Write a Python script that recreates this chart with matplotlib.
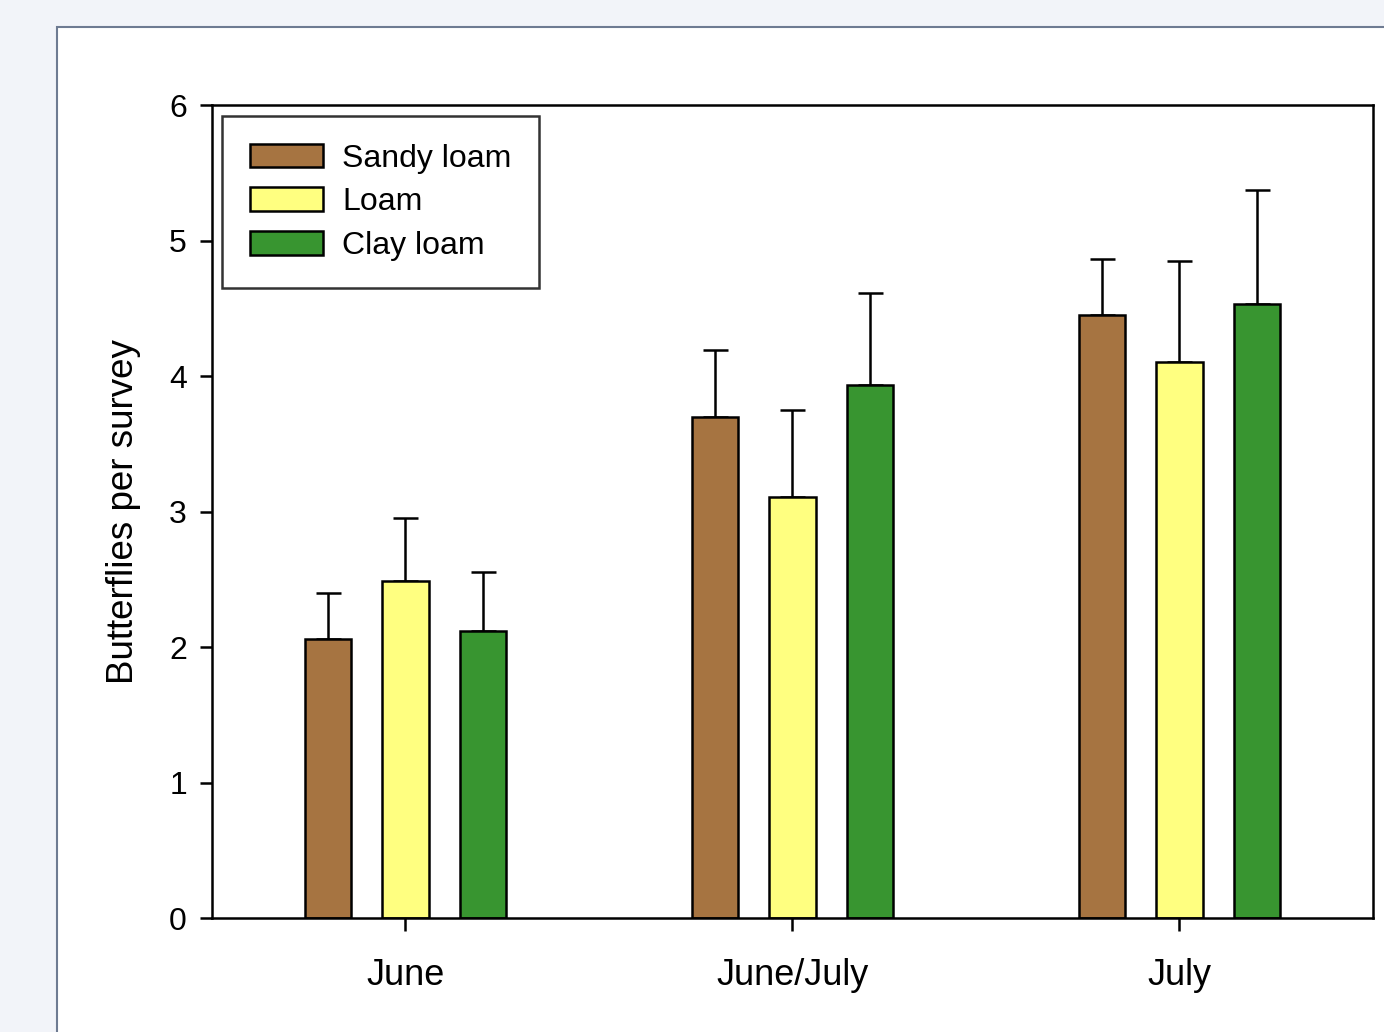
import numpy as np
import matplotlib
matplotlib.use("Agg")
import matplotlib.pyplot as plt
from matplotlib.patches import Rectangle

plt.rcParams['font.family'] = ['Liberation Sans', 'DejaVu Sans']

periods = ['June', 'June/July', 'July']
soils = ['Sandy loam', 'Loam', 'Clay loam']
sandy_mean = [2.06, 3.70, 4.45]
sandy_err = [0.34, 0.49, 0.41]
loam_mean = [2.49, 3.11, 4.10]
loam_err = [0.46, 0.64, 0.75]
clay_mean = [2.12, 3.93, 4.53]
clay_err = [0.43, 0.68, 0.84]

colors = ['#a67441', '#ffff80', '#389530']
lw = 1.8

fig = plt.figure(figsize=(13.84, 10.32), dpi=100)
fig.patch.set_facecolor('#f2f4f9')
# white panel with border, behind the axes
fig.patches.append(Rectangle((57/1384, -0.1), 1.2, 1 - 27/1032 + 0.1,
                             transform=fig.transFigure, facecolor='white',
                             edgecolor='#6e7b92', linewidth=1.5, zorder=-10))

ax = fig.add_axes([212/1384, 1 - 918/1032, (1373 - 212)/1384, (918 - 105)/1032])
ax.set_facecolor('none')

x = np.arange(len(periods))
w = 0.12
off = 0.2
series = [(sandy_mean, sandy_err), (loam_mean, loam_err), (clay_mean, clay_err)]
for i, (m, e) in enumerate(series):
    xs = x + (i - 1) * off
    ax.bar(xs, m, w, color=colors[i], edgecolor='black', linewidth=lw,
           label=soils[i], zorder=2)
    ax.errorbar(xs, m, yerr=[np.zeros(len(e)), e], fmt='none', ecolor='black',
                elinewidth=lw, capsize=9, capthick=lw, zorder=1)

ax.set_xlim(-0.5, 2.5)
ax.set_ylim(0, 6)
ax.set_yticks(range(0, 7))
ax.set_xticks(x)
ax.set_xticklabels(periods, fontsize=26)
ax.tick_params(axis='y', labelsize=23, length=9, width=lw, direction='out', pad=9)
ax.tick_params(axis='x', length=9, width=lw, direction='out', pad=20)
for s in ax.spines.values():
    s.set_linewidth(lw)

ax.set_ylabel('Butterflies per survey', fontsize=26.5, labelpad=20)

leg = ax.legend(loc='upper left', bbox_to_anchor=(0.009, 0.986), fontsize=23,
                frameon=True, fancybox=False, edgecolor='black',
                handlelength=2.3, handleheight=0.75, borderpad=0.85,
                labelspacing=0.43, handletextpad=0.6, borderaxespad=0)
leg.get_frame().set_linewidth(lw)

fig.savefig('out.png', dpi=100, facecolor=fig.get_facecolor())
